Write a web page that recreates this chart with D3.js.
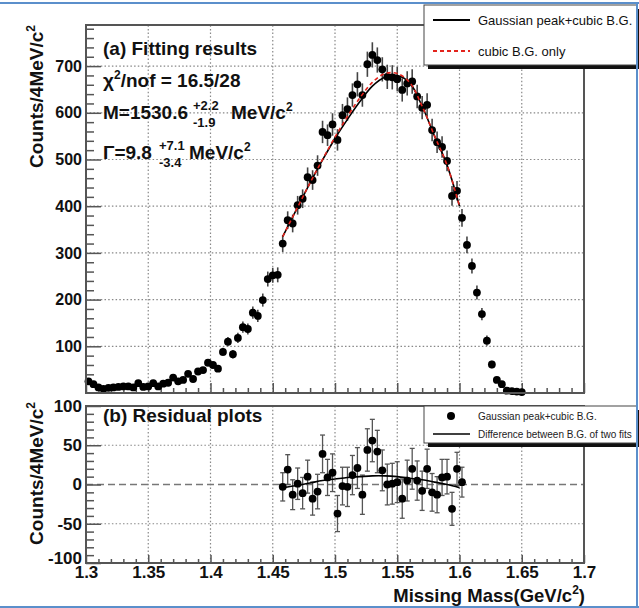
<!DOCTYPE html>
<html>
<head>
<meta charset="utf-8">
<script src="https://cdn.jsdelivr.net/npm/d3@7"></script>
<style>
  body { margin: 0; background: #fff; }
  svg text { font-family: "Liberation Sans", Arial, Helvetica, sans-serif; }
</style>
</head>
<body>
<svg id="chart" width="639" height="608"></svg>
<script>
// histogram: 4 MeV bins, first bin centre 1.302 GeV
var binStart = 1.302, binWidth = 0.004;
var counts = [
  25, 19, 12, 9, 11, 12, 13, 14, 14, 12,
  21, 13, 14, 21, 14, 20, 22, 33, 25, 28,
  41, 30, 46, 49, 65, 60, 52, 88, 110, 83,
  118, 141, 137, 172, 165, 199, 244, 252, 253, 320,
  370, 363, 402, 416, 462, 456, 487, 559, 552, 575,
  542, 595, 608, 638, 661, 638, 704, 724, 713, 693,
  677, 676, 672, 649, 663, 667, 635, 611, 617, 563,
  537, 527, 497, 422, 433, 375, 317, 272, 215, 169,
  112, 61, 28, 19, 5, 4, 3, 2
];
var countErrors = [
  5, 4, 3, 3, 3, 3, 4, 4, 4, 3,
  5, 4, 4, 5, 4, 4, 5, 6, 5, 5,
  6, 5, 7, 7, 8, 8, 7, 9, 10, 9,
  11, 12, 12, 13, 13, 14, 16, 16, 16, 18,
  19, 19, 20, 20, 21, 21, 22, 24, 23, 24,
  23, 24, 25, 25, 26, 25, 27, 27, 27, 26,
  26, 26, 26, 25, 26, 26, 25, 25, 25, 24,
  23, 23, 22, 21, 21, 19, 18, 16, 15, 13,
  11, 8, 5, 4, 2, 2, 2, 1
];

// fit range starts at bin 39
var fitFirstBin = 39;
var residuals = [
  -3, 19, -13, 1, -11, 10, -18, -9, 39, 9,
  15, -37, -2, -3, 12, 21, -13, 44, 56, 42,
  18, 0, 1, 3, -18, 5, 20, 5, -8, 20,
  -10, -13, 9, 10, -31, 20, 3
];

var fitMass  = [1.458, 1.47, 1.48, 1.49, 1.50, 1.51, 1.52, 1.53, 1.54, 1.55, 1.56, 1.57, 1.58, 1.59, 1.60];
var fitTotal = [335, 398, 450, 499, 545, 586, 624, 657, 676, 680, 664, 614, 550, 488, 400];
var fitBgOnly = [335, 398, 450, 500, 548, 592, 632, 665, 684, 684, 665, 614, 550, 488, 400];
var bgDifference = [-4, -1, 2, 5, 7, 9, 10, 11, 11, 10, 8, 6, 3, 0, -4];

var xTicks = [1.3, 1.35, 1.4, 1.45, 1.5, 1.55, 1.6, 1.65, 1.7];
var topYTicks = [100, 200, 300, 400, 500, 600, 700];
var resYTicks = [-100, -50, 0, 50, 100];

var masses = counts.map(function(c, i) { return +(binStart + i * binWidth).toFixed(3); });
var histo = counts.map(function(c, i) { return { m: masses[i], v: c, e: countErrors[i] }; });
var resid = residuals.map(function(r, i) {
  return { m: masses[fitFirstBin + i], v: r, e: countErrors[fitFirstBin + i] };
});

var svg = d3.select("#chart");
var FRAME = "#555", FONT = "Liberation Sans, Arial, sans-serif";
var plain = function(d) { return String(d); };   // hyphen minus, like the original

var x = d3.scaleLinear().domain([1.3, 1.7]).range([86, 584]);
var yTop = d3.scaleLinear().domain([0, 788]).range([393, 25]);
var yRes = d3.scaleLinear().domain([-100, 100]).range([563, 406]);

// ---- grids
function drawGrid(yScale, yVals) {
  var g = svg.append("g").attr("stroke", "#888").attr("stroke-width", 1.2)
      .attr("stroke-dasharray", "1.5,2.2");
  g.selectAll(".gx").data(xTicks.slice(1, -1)).enter().append("line")
      .attr("x1", x).attr("x2", x)
      .attr("y1", yScale.range()[0]).attr("y2", yScale.range()[1]);
  g.selectAll(".gy").data(yVals).enter().append("line")
      .attr("x1", x.range()[0]).attr("x2", x.range()[1])
      .attr("y1", yScale).attr("y2", yScale);
}
drawGrid(yTop, topYTicks);
drawGrid(yRes, [-50, 50]);

svg.append("line")
    .attr("x1", x.range()[0]).attr("x2", x.range()[1])
    .attr("y1", yRes(0)).attr("y2", yRes(0))
    .attr("stroke", "#777").attr("stroke-width", 1.6).attr("stroke-dasharray", "7,4");

// ---- axes (ticks inside the frame, ROOT style)
function styleAxis(g, size) {
  g.select(".domain").remove();
  g.attr("font-family", FONT).attr("font-size", size).attr("font-weight", "bold");
  g.selectAll(".tick line").attr("stroke", FRAME).attr("stroke-width", 1.5);
  g.selectAll(".tick text").attr("fill", "#111");
}
function minorsOf(scale, step, majors) {
  var d = scale.domain();
  return d3.range(d[0], d[1] + step / 2, step).map(function(v) { return +v.toFixed(4); })
    .filter(function(v) { return majors.indexOf(v) < 0; });
}

svg.append("g").attr("transform", "translate(86,0)")
    .call(d3.axisLeft(yTop).tickValues(topYTicks).tickSizeInner(-15).tickSizeOuter(0).tickPadding(4))
    .call(styleAxis, 16);
svg.append("g").attr("transform", "translate(86,0)")
    .call(d3.axisLeft(yTop).tickValues(minorsOf(yTop, 20, topYTicks.concat([0]))).tickSize(-8).tickFormat(""))
    .call(styleAxis, 16);
svg.append("g").attr("transform", "translate(0,393)")
    .call(d3.axisBottom(x).tickValues(xTicks).tickSize(-10).tickFormat(""))
    .call(styleAxis, 18);
svg.append("g").attr("transform", "translate(0,393)")
    .call(d3.axisBottom(x).tickValues(minorsOf(x, 0.01, xTicks)).tickSize(-5).tickFormat(""))
    .call(styleAxis, 18);

var resAxis = svg.append("g").attr("transform", "translate(86,0)")
    .call(d3.axisLeft(yRes).tickValues(resYTicks).tickSizeInner(-15).tickSizeOuter(0).tickPadding(4)
      .tickFormat(plain))
    .call(styleAxis, 17);
// lift the bottom label a little so it clears the x labels
resAxis.selectAll(".tick text").filter(function(d) { return d === -100; }).attr("y", -5);
svg.append("g").attr("transform", "translate(86,0)")
    .call(d3.axisLeft(yRes).tickValues(minorsOf(yRes, 10, resYTicks)).tickSize(-8).tickFormat(""))
    .call(styleAxis, 17);
svg.append("g").attr("transform", "translate(0,563)")
    .call(d3.axisBottom(x).tickValues(xTicks).tickSizeInner(-8).tickSizeOuter(0).tickPadding(4)
      .tickFormat(plain))
    .call(styleAxis, 17)
    .selectAll(".tick text").attr("y", 3);
svg.append("g").attr("transform", "translate(0,563)")
    .call(d3.axisBottom(x).tickValues(minorsOf(x, 0.01, xTicks)).tickSize(-4).tickFormat(""))
    .call(styleAxis, 17);

// ---- top panel data
var topPts = svg.append("g");
topPts.selectAll(".eb").data(histo.filter(function(d) { return d.v > 60; })).enter().append("line")
    .attr("x1", function(d) { return x(d.m); }).attr("x2", function(d) { return x(d.m); })
    .attr("y1", function(d) { return yTop(d.v - d.e); }).attr("y2", function(d) { return yTop(d.v + d.e); })
    .attr("stroke", "#444").attr("stroke-width", 1.6);
topPts.selectAll("circle").data(histo).enter().append("circle")
    .attr("cx", function(d) { return x(d.m); }).attr("cy", function(d) { return yTop(d.v); })
    .attr("r", 3.9).attr("fill", "#000");

var fitLine = function(vals, yScale) {
  return d3.line().curve(d3.curveCatmullRom)
    .x(function(d, i) { return x(fitMass[i]); })
    .y(function(d) { return yScale(d); })(vals);
};
svg.append("path").attr("d", fitLine(fitTotal, yTop))
    .attr("fill", "none").attr("stroke", "#000").attr("stroke-width", 1.6);
svg.append("path").attr("d", fitLine(fitBgOnly, yTop))
    .attr("fill", "none").attr("stroke", "#e3231c").attr("stroke-width", 1.6)
    .attr("stroke-dasharray", "4,3");

// ---- residual panel data
var resPts = svg.append("g");
var eb = resPts.selectAll(".reb").data(resid).enter().append("g").attr("stroke", "#555").attr("stroke-width", 1.3);
eb.append("line")
    .attr("x1", function(d) { return x(d.m); }).attr("x2", function(d) { return x(d.m); })
    .attr("y1", function(d) { return yRes(d.v - d.e); }).attr("y2", function(d) { return yRes(d.v + d.e); });
eb.append("line")
    .attr("x1", function(d) { return x(d.m) - 2.5; }).attr("x2", function(d) { return x(d.m) + 2.5; })
    .attr("y1", function(d) { return yRes(d.v - d.e); }).attr("y2", function(d) { return yRes(d.v - d.e); });
eb.append("line")
    .attr("x1", function(d) { return x(d.m) - 2.5; }).attr("x2", function(d) { return x(d.m) + 2.5; })
    .attr("y1", function(d) { return yRes(d.v + d.e); }).attr("y2", function(d) { return yRes(d.v + d.e); });
resPts.selectAll("circle").data(resid).enter().append("circle")
    .attr("cx", function(d) { return x(d.m); }).attr("cy", function(d) { return yRes(d.v); })
    .attr("r", 3.9).attr("fill", "#000");
svg.append("path").attr("d", fitLine(bgDifference, yRes))
    .attr("fill", "none").attr("stroke", "#000").attr("stroke-width", 1.6);

// ---- frames
[yTop, yRes].forEach(function(ys) {
  svg.append("rect")
      .attr("x", x.range()[0]).attr("y", ys.range()[1])
      .attr("width", x.range()[1] - x.range()[0]).attr("height", ys.range()[0] - ys.range()[1])
      .attr("fill", "none").attr("stroke", FRAME).attr("stroke-width", 2);
});

// ---- legends
function legendBox(y0, h) {
  svg.append("rect").attr("x", 428).attr("y", y0 + 4).attr("width", 215).attr("height", h).attr("fill", "#111");
  svg.append("rect").attr("x", 424).attr("y", y0).attr("width", 213).attr("height", h)
      .attr("fill", "#fff").attr("stroke", "#444").attr("stroke-width", 1);
}
legendBox(5, 60);
var lg = svg.append("g").attr("font-family", FONT).attr("font-size", 13).attr("fill", "#111");
lg.append("line").attr("x1", 433).attr("x2", 470).attr("y1", 20).attr("y2", 20)
    .attr("stroke", "#000").attr("stroke-width", 2);
lg.append("text").attr("x", 478).attr("y", 24.5).text("Gaussian peak+cubic B.G.");
lg.append("line").attr("x1", 433).attr("x2", 470).attr("y1", 51).attr("y2", 51)
    .attr("stroke", "#e3231c").attr("stroke-width", 2).attr("stroke-dasharray", "4,3");
lg.append("text").attr("x", 478).attr("y", 55.5).text("cubic B.G. only");

legendBox(406, 37);
var lg2 = svg.append("g").attr("font-family", FONT).attr("font-size", 10).attr("fill", "#222");
lg2.append("circle").attr("cx", 451).attr("cy", 416).attr("r", 4).attr("fill", "#000");
lg2.append("text").attr("x", 478).attr("y", 419.5).text("Gaussian peak+cubic B.G.");
lg2.append("line").attr("x1", 433).attr("x2", 470).attr("y1", 434).attr("y2", 434)
    .attr("stroke", "#000").attr("stroke-width", 1.6);
lg2.append("text").attr("x", 478).attr("y", 437.5).text("Difference between B.G. of two fits");

// ---- annotations
var ann = svg.append("g").attr("font-family", FONT).attr("font-size", 19)
    .attr("font-weight", "bold").attr("fill", "#111");
ann.append("text").attr("x", 103).attr("y", 55).text("(a) Fitting results");
var chi = ann.append("text").attr("x", 103).attr("y", 87);
chi.append("tspan").text("\u03c7");
chi.append("tspan").attr("font-size", 12).attr("dy", -8).text("2");
chi.append("tspan").attr("dy", 8).text("/nof = 16.5/28");

function massLine(y, main, up, down, xs, xu) {
  ann.append("text").attr("x", 103).attr("y", y).text(main);
  ann.append("text").attr("x", xs).attr("y", y - 9).attr("font-size", 13).text(up);
  ann.append("text").attr("x", xs).attr("y", y + 8).attr("font-size", 13).text(down);
  var t = ann.append("text").attr("x", xu).attr("y", y);
  t.append("tspan").text("MeV/c");
  t.append("tspan").attr("font-size", 12).attr("dy", -8).text("2");
}
massLine(119, "M=1530.6", "+2.2", "-1.9", 193, 231);
massLine(159, "\u0393=9.8", "+7.1", "-3.4", 159, 189);

ann.append("text").attr("x", 103).attr("y", 422).text("(b) Residual plots");

// axis titles
function yTitle(yEnd) {
  var t = svg.append("text").attr("transform", "translate(43," + yEnd + ") rotate(-90)")
      .attr("text-anchor", "end").attr("font-family", FONT).attr("font-size", 19)
      .attr("font-weight", "bold").attr("fill", "#111");
  t.append("tspan").text("Counts/4MeV/c");
  t.append("tspan").attr("font-size", 12).attr("dy", -8).text("2");
}
yTitle(25);
yTitle(402);
var xt = svg.append("text").attr("x", 585).attr("y", 602).attr("text-anchor", "end")
    .attr("font-family", FONT).attr("font-size", 18.5).attr("font-weight", "bold").attr("fill", "#111");
xt.append("tspan").text("Missing Mass(GeV/c");
xt.append("tspan").attr("font-size", 12).attr("dy", -8).text("2");
xt.append("tspan").attr("dy", 8).text(")");

// ---- page border
var border = svg.append("g").attr("stroke", "#5b8fcb").attr("stroke-width", 2);
border.append("line").attr("x1", 0).attr("x2", 639).attr("y1", 3).attr("y2", 3);
border.append("line").attr("x1", 0).attr("x2", 639).attr("y1", 607).attr("y2", 607);
border.append("line").attr("x1", 637).attr("x2", 637).attr("y1", 3).attr("y2", 607);
</script>
</body>
</html>
